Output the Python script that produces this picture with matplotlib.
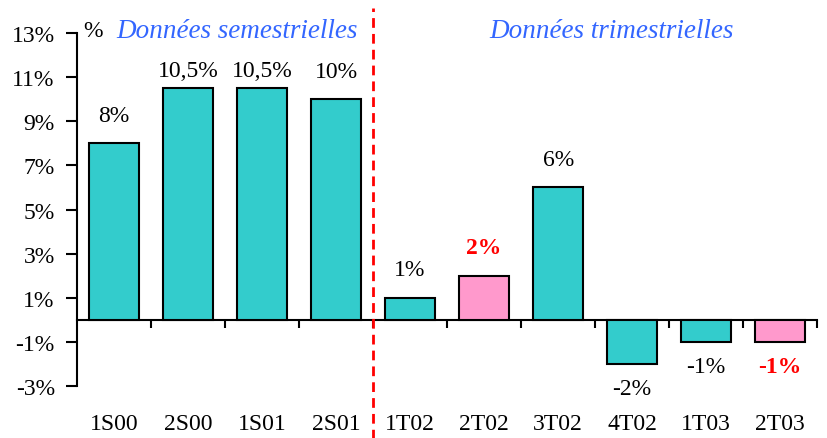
import matplotlib
matplotlib.use("Agg")
import matplotlib.pyplot as plt
import numpy as np

categories = ["1S00", "2S00", "1S01", "2S01", "1T02", "2T02", "3T02", "4T02", "1T03", "2T03"]
values = [8, 10.5, 10.5, 10, 1, 2, 6, -2, -1, -1]
labels = ["8%", "10,5%", "10,5%", "10%", "1%", "2%", "6%", "-2%", "-1%", "-1%"]
highlight = [False, False, False, False, False, True, False, False, False, True]
yticks = [-3, -1, 1, 3, 5, 7, 9, 11, 13]

TEAL = "#33CCCC"
PINK = "#FF99CC"
BLUE = "#3366FF"
RED = "#FF0000"

plt.rcParams['font.family'] = ['Liberation Serif', 'DejaVu Serif']
FS = 17

fig = plt.figure(figsize=(8.28, 4.39), dpi=100)
ax = fig.add_axes([0.093, 0.1185, 0.894, 0.804])

x = np.arange(len(categories))
colors = [PINK if h else TEAL for h in highlight]
ax.bar(x, values, width=0.68, color=colors, edgecolor="black", linewidth=1.5, zorder=3)

ax.set_xlim(-0.5, len(categories) - 0.5)
ax.set_ylim(-3, 13)
ax.set_yticks(yticks)
ax.set_yticklabels([f"{t}%" for t in yticks], fontsize=FS)
ax.tick_params(axis='y', direction='out', length=8, width=1.5, pad=8)

ax.spines['top'].set_visible(False)
ax.spines['right'].set_visible(False)
ax.spines['left'].set_linewidth(1.5)
ax.spines['bottom'].set_position(('data', 0))
ax.spines['bottom'].set_linewidth(1.5)
ax.set_xticks(np.arange(0.5, len(categories), 1.0))
ax.set_xticklabels([])
ax.tick_params(axis='x', direction='out', length=6, width=1.5)

for xi, cat in zip(x, categories):
    ax.text(xi, -0.105, cat, transform=ax.get_xaxis_transform(), ha='center', va='center', fontsize=FS)

for xi, v, lab, h in zip(x, values, labels, highlight):
    ypos = min(v + 1.27, 11.3) if v >= 0 else v - 1.13
    ax.text(xi, ypos, lab, ha='center', va='center', fontsize=FS,
            color=RED if h else 'black', fontweight='bold' if h else 'normal')

ax.axvline(3.5, ymin=-0.15, ymax=1.07, color=RED, linestyle=(0, (3.5, 2.2)), linewidth=2, clip_on=False, zorder=4)

ax.text(-0.28, 13.1, "%", fontsize=FS, ha='center', va='center')
ax.text(1.66, 13.1, "Données semestrielles", fontsize=19.5, style='italic', color=BLUE, ha='center', va='center')
ax.text(6.72, 13.1, "Données trimestrielles", fontsize=19.5, style='italic', color=BLUE, ha='center', va='center')

fig.savefig("out.png", dpi=100)
